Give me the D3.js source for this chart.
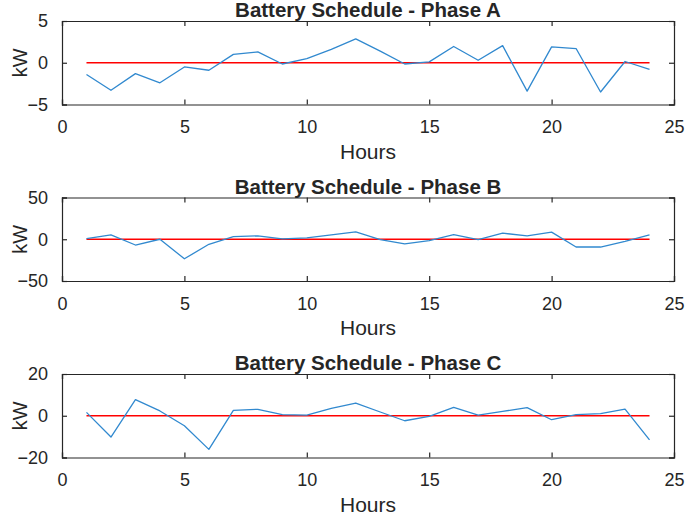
<!DOCTYPE html>
<html>
<head>
<meta charset="utf-8">
<script src="https://cdn.jsdelivr.net/npm/d3@7"></script>
<style>
  html, body { margin: 0; padding: 0; background: #fff; }
  svg { display: block; }
  text { font-family: "Liberation Sans", Arial, Helvetica, sans-serif; fill: #262626; }
</style>
</head>
<body>
<svg id="chart" width="685" height="515"></svg>
<script>
// ---- Data ----
const hours = [1,2,3,4,5,6,7,8,9,10,11,12,13,14,15,16,17,18,19,20,21,22,23,24];
const phaseA = [-1.4,-3.3,-1.3,-2.4,-0.5,-0.9,1.0,1.3,-0.15,0.5,1.6,2.85,1.4,-0.15,0.1,1.95,0.3,2.05,-3.4,1.9,1.7,-3.5,0.15,-0.8];
const phaseB = [0.8,5.2,-6.9,0,-23.4,-6,3.2,4,0.4,1.6,5.2,8.9,-0.4,-5.6,-1.6,5.6,-0.4,7.3,4,8.5,-9.3,-9.3,-2.5,5.2];
const phaseC = [1.6,-10.2,7.7,2.3,-4.8,-16.1,2.6,3.1,0.5,0.3,3.5,6.1,1.8,-2.4,-0.3,4,0.3,2.1,3.9,-1.9,0.5,1.0,3.2,-11.6];
const zeroRef = [0,0,0,0,0,0,0,0,0,0,0,0,0,0,0,0,0,0,0,0,0,0,0,0];
const titles = ["Battery Schedule - Phase A","Battery Schedule - Phase B","Battery Schedule - Phase C"];
const yDomains = [[-5,5],[-50,50],[-20,20]];
const yTickValues = [[-5,0,5],[-50,0,50],[-20,0,20]];
const xTickValues = [0,5,10,15,20,25];
const xLabel = "Hours";
const yLabel = "kW";
const series = [phaseA, phaseB, phaseC];

// ---- Layout ----
const svg = d3.select("#chart");
const left = 62, right = 674;
const panelTop0 = 21, panelStep = 176.5, panelH = 83.5;
const axisColor = "#262626";
const tickLen = 5;

const x = d3.scaleLinear().domain([0, 25]).range([left, right]);

series.forEach((vals, i) => {
  const top = panelTop0 + i * panelStep;
  const bottom = top + panelH;
  const y = d3.scaleLinear().domain(yDomains[i]).range([bottom, top]);
  const g = svg.append("g");

  // lines
  const line = d3.line().x((d, k) => x(hours[k])).y(d => y(d));
  g.append("path").datum(zeroRef).attr("d", line)
    .attr("fill", "none").attr("stroke", "#ff0000").attr("stroke-width", 1.6);
  g.append("path").datum(vals).attr("d", line)
    .attr("fill", "none").attr("stroke", "#3189cf").attr("stroke-width", 1.3)
    .attr("stroke-linejoin", "round");

  // axes (MATLAB style: ticks inside, box)
  const xb = g.append("g").attr("transform", `translate(0,${bottom})`)
    .call(d3.axisBottom(x).tickValues(xTickValues).tickSize(-tickLen).tickPadding(16).tickFormat(d3.format("d")));
  const xt = g.append("g").attr("transform", `translate(0,${top})`)
    .call(d3.axisTop(x).tickValues(xTickValues).tickSize(-tickLen).tickFormat(""));
  const yl = g.append("g").attr("transform", `translate(${left},0)`)
    .call(d3.axisLeft(y).tickValues(yTickValues[i]).tickSize(-tickLen).tickPadding(14).tickFormat(d3.format("d")));
  const yr = g.append("g").attr("transform", `translate(${right},0)`)
    .call(d3.axisRight(y).tickValues(yTickValues[i]).tickSize(-tickLen).tickFormat(""));

  [xb, xt, yl, yr].forEach(a => {
    a.select(".domain").attr("stroke", axisColor).attr("stroke-width", 1.2);
    a.selectAll(".tick line").attr("stroke", axisColor).attr("stroke-width", 1.2);
    a.selectAll(".tick text").attr("fill", axisColor)
      .style("font-size", "18px").style("font-family", "'Liberation Sans', Arial, sans-serif");
  });
  xb.selectAll(".tick text").attr("dy", "0.71em");

  // title
  g.append("text").attr("x", (left + right) / 2).attr("y", top - 4)
    .attr("text-anchor", "middle").style("font-size", "20.5px").style("font-weight", "bold")
    .attr("fill", "#000").text(titles[i]);

  // x label
  g.append("text").attr("x", (left + right) / 2).attr("y", bottom + 54)
    .attr("text-anchor", "middle").style("font-size", "21px").text(xLabel);

  // y label
  g.append("text").attr("transform", `translate(27,${(top + bottom) / 2}) rotate(-90)`)
    .attr("text-anchor", "middle").style("font-size", "20px").text(yLabel);
});
</script>
</body>
</html>
